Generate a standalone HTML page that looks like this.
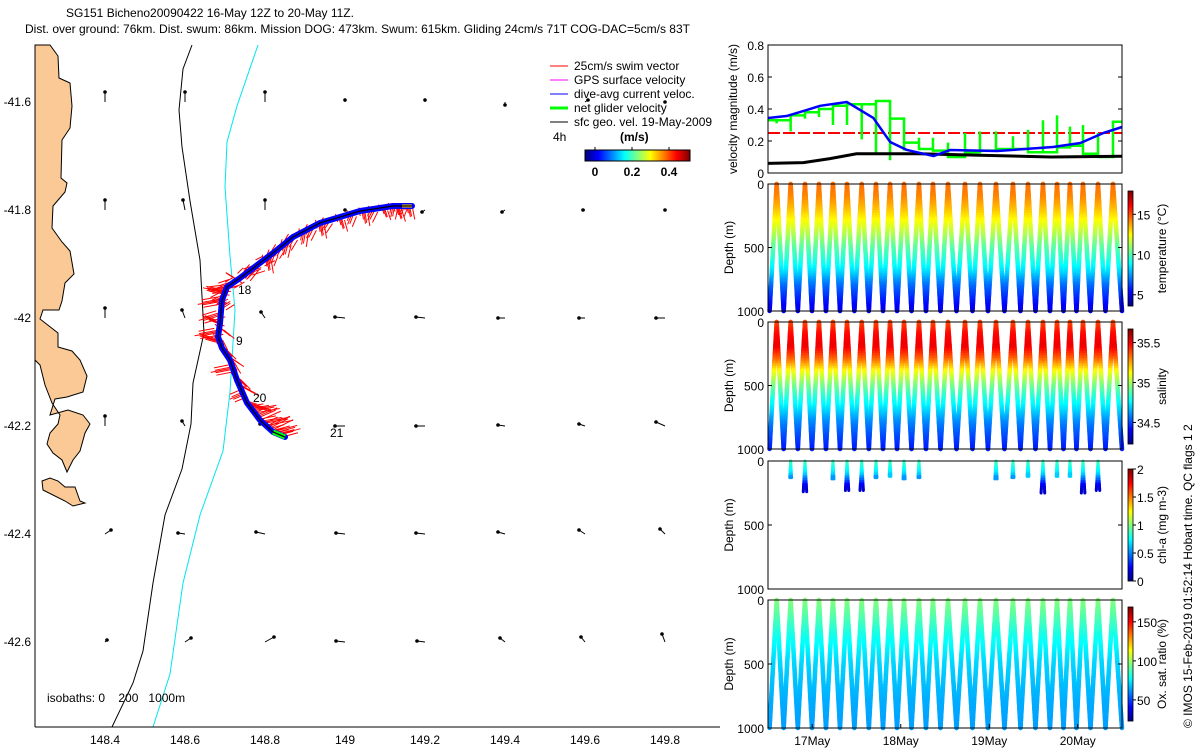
<!DOCTYPE html>
<html><head><meta charset="utf-8"><title>SG151 glider</title>
<style>
html,body{margin:0;padding:0;background:#fff;}
svg{display:block;font-family:"Liberation Sans",sans-serif;}
text{font-family:"Liberation Sans",sans-serif;}
</style></head>
<body>
<svg id="fig" width="1200" height="750" viewBox="0 0 1200 750" xmlns="http://www.w3.org/2000/svg">
<rect x="0" y="0" width="1200" height="750" fill="#fff"/>
<text x="66" y="17" font-size="12">SG151 Bicheno20090422 16-May 12Z to 20-May 11Z.</text>
<text x="25" y="33" font-size="12">Dist. over ground: 76km. Dist. swum: 86km. Mission DOG: 473km. Swum: 615km. Gliding 24cm/s 71T COG-DAC=5cm/s 83T</text>

<g id="map">
 <path fill="#FBC996" stroke="#000" stroke-width="1"
  d="M35,45 L50,45 L58,56 L59,78 L70,83 L72,106 L70,128 L62,140 L61,178 L67,183 L65,192 L53,206 L52,228 L62,242 L70,251 L74,274 L65,283 L62,301 L59,310 L43,310 L40,319 L58,333 L58,347 L72,351 L80,360 L87,376 L83,392 L67,397 L55,399 L50,415 L68,410 L83,415 L90,424 L85,433 L80,451 L73,460 L67,472 L62,460 L53,453 L47,444 L50,433 L58,424 L60,415 L52,403 L45,385 L40,365 L35,360 Z"/>
 <path fill="#FBC996" stroke="#000" stroke-width="1"
  d="M42,481 L50,478 L58,481 L65,487 L75,487 L80,501 L85,503 L73,506 L65,501 L43,490 Z"/>
 <polyline fill="none" stroke="#000" stroke-width="1"
  points="192,45 183,69 179,110 182,147 190,201 200,260 204,333 193,383 191,424 182,469 165,515 153,583 143,651 133,683 112,727"/>
 <polyline fill="none" stroke="#00e5ee" stroke-width="1"
  points="258,45 237,106 227,142 225,187 230,256 235,310 230,392 223,451 200,515 183,583 170,674 153,727"/>
 <g id="gridArrows"></g>
 <g id="track"></g>
 <text x="238" y="294" font-size="12">18</text>
 <text x="236" y="345" font-size="12">9</text>
 <text x="253" y="402" font-size="12">20</text>
 <text x="330" y="437" font-size="12">21</text>
 <line x1="35" y1="45" x2="35" y2="727" stroke="#000"/>
 <line x1="35" y1="727" x2="720" y2="727" stroke="#000"/>
 <g id="mapTicks"></g>
 <text x="47" y="702" font-size="12" xml:space="preserve">isobaths: 0    200   1000m</text>
 <g>
  <line x1="550" y1="66" x2="568" y2="66" stroke="#f00"/><text x="574" y="70" font-size="12">25cm/s swim vector</text>
  <line x1="550" y1="80" x2="568" y2="80" stroke="#f0f"/><text x="574" y="84" font-size="12">GPS surface velocity</text>
  <line x1="550" y1="94" x2="568" y2="94" stroke="#00f"/><text x="574" y="98" font-size="12">dive-avg current veloc.</text>
  <line x1="550" y1="108" x2="568" y2="108" stroke="#0f0" stroke-width="3"/><text x="574" y="112" font-size="12">net glider velocity</text>
  <line x1="550" y1="122" x2="568" y2="122" stroke="#000"/><text x="574" y="126" font-size="12">sfc geo. vel. 19-May-2009</text>
  <text x="553" y="141" font-size="12">4h</text>
  <text x="620" y="141" font-size="12" font-weight="bold">(m/s)</text>
 </g>
 <g id="speedBar"></g>
</g>

<g id="vel"></g>
<g id="temp"></g>
<g id="sal"></g>
<g id="chl"></g>
<g id="oxy"></g>
<text transform="translate(1192,728) rotate(-90)" font-size="12">© IMOS 15-Feb-2019 01:52:14 Hobart time. QC flags 1  2</text>
</svg>
<script>
// ---------- data ----------
const gridLons=[148.4,148.6,148.8,149,149.2,149.4,149.6,149.8];
const gridLats=[-41.6,-41.8,-42,-42.2,-42.4,-42.6];
const gridU=[[0,0,0,0,0,0,0.03,0],[0,-0.02,0,0,-0.03,-0.03,-0.02,0],[0,-0.03,-0.04,-0.1,-0.09,-0.07,-0.06,-0.09],[0,-0.03,-0.05,-0.1,-0.09,-0.07,-0.06,-0.09],[0.06,-0.07,-0.09,-0.09,-0.09,-0.07,-0.06,-0.05],[0.02,0.06,0.09,-0.09,-0.08,-0.05,-0.04,-0.03]];
const gridV=[[0.1,0.1,0.1,0.02,0.02,-0.03,0.02,0],[0.1,0.1,0.1,0,-0.02,-0.02,0,0],[0.1,0.08,0.06,0.01,0.01,0,0,0],[0.1,0.05,0.02,0,0,0.01,0.02,0.04],[0.04,0.01,0.02,0.01,0.01,0.02,0.04,0.05],[0.02,0.04,0.05,0.01,0.01,0.04,0.05,0.08]];
const trackLon=[149.1675,149.12,149.0375,148.9375,148.87,148.83,148.7875,148.7375,148.705,148.6925,148.6875,148.6825,148.6925,148.7125,148.73,148.755,148.7875,148.82,148.85];
const trackLat=[-41.7926,-41.7926,-41.8019,-41.824,-41.85,-41.874,-41.898,-41.926,-41.9426,-41.9667,-42.0093,-42.035,-42.0556,-42.0778,-42.1148,-42.157,-42.189,-42.211,-42.2204];
const swimIdx=[0.2,0.5,0.8,1,1.3,1.6,1.9,2.2,2.5,2.8,3,3.3,3.6,4,4.4,4.8,5.2,5.6,6,6.3,6.6,6.9,7.2,7.5,7.8,8.1,8.4,8.7,9,9.3,9.6,10,10.3,10.6,11,11.4,11.8,12.2,12.6,13,13.4,13.8,14.2,14.6,15,15.4,15.8,16.2,16.6,17,17.4];
const swimE=[0.02,-0.03,0.04,-0.02,0.03,-0.05,0.02,-0.04,0.03,-0.06,0.02,-0.05,-0.02,-0.06,-0.03,-0.05,-0.04,0.02,0.1,-0.08,0.12,0.08,-0.1,-0.15,0.1,-0.18,-0.2,-0.12,-0.22,0.08,-0.2,-0.15,0.1,-0.22,0.05,-0.18,0.1,0.08,0.12,0.06,-0.2,0.1,0.15,-0.12,0.2,0.22,0.18,0.25,0.2,0.22,0.15];
const swimN=[-0.1,-0.08,-0.12,-0.1,-0.09,-0.1,-0.12,-0.1,-0.11,-0.09,-0.12,-0.1,-0.12,-0.1,-0.12,-0.08,-0.1,-0.12,0.05,-0.1,0.04,0.08,0.06,-0.05,0.06,-0.02,0.04,-0.06,-0.04,0.05,-0.06,0.06,-0.08,-0.04,-0.1,0.05,-0.1,-0.12,-0.08,-0.1,-0.04,-0.1,-0.08,-0.05,-0.06,0.04,0.08,0.05,0.1,0.06,0.04];
// velocity panel (days since 16-May 12Z)
const blueT=[0,0.21,0.44,0.59,0.89,1.19,1.38,1.57,1.87,2.06,2.59,3.22,3.53,3.79,4.0];
const blueV=[0.344,0.356,0.394,0.42,0.444,0.344,0.194,0.144,0.106,0.144,0.1375,0.1625,0.1875,0.25,0.2875];
const blackT=[0,0.4,0.7,1.0,1.7,2.45,3.2,4.0];
const blackV=[0.06,0.065,0.09,0.12,0.12,0.11,0.1,0.105];
const diveT=[0.098,0.256,0.418,0.576,0.734,0.893,1.059,1.220,1.379,1.537,1.706,1.864,2.034,2.226,2.395,2.576,2.768,2.938,3.107,3.266,3.412,3.559,3.729,3.898];
const greenV=[0.33,0.36,0.38,0.40,0.42,0.43,0.43,0.45,0.34,0.19,0.15,0.14,0.10,0.13,0.14,0.15,0.15,0.13,0.13,0.16,0.17,0.12,0.10,0.32];
const greenSpike=[0.31,0.26,0.34,0.35,0.30,0.30,0.21,0.12,0.08,0.14,0.22,0.22,0.19,0.25,0.26,0.26,0.23,0.27,0.33,0.36,0.29,0.30,0.25,0.32];
const velTicks=[0,0.2,0.4,0.6,0.8];
const dateTicks=[0.5,1.5,2.5,3.5];
const dateLabels=["17May","18May","19May","20May"];
const depthTicks=[0,500,1000];
// profiles (depth m -> value)
const profDepth=[0,100,200,300,400,500,600,700,800,900,1000];
const tempProf=[14.6,14.3,13.5,12.5,11.5,10.3,9.5,8.5,7,6,5];
const salProf=[35.38,35.48,35.52,35.35,35.12,34.95,34.82,34.72,34.6,34.52,34.45];
const oxProf=[97,92,86,80,76,72,70,68,66,65,64];
const chlProf=[0.9,0.7,0.2,0.08,0.05,0.05,0.05,0.05,0.05,0.05,0.05];
const chlDives=[1,2,4,5,6,7,8,9,10,15,16,17,18,19,20,21,22];
const chlMaxDepth=[130,240,140,230,230,130,120,140,130,140,130,120,250,120,120,250,230];
const tempTicks=[5,10,15], salTicks=[34.5,35,35.5], chlTicks=[0,0.5,1,1.5,2], oxTicks=[50,100,150];
const speedTicks=[0,0.2,0.4];

// ---------- helpers ----------
const NS="http://www.w3.org/2000/svg";
function mk(tag,attrs,parent){const e=document.createElementNS(NS,tag);for(const k in attrs)e.setAttribute(k,attrs[k]);parent.appendChild(e);return e;}
function cl(v){return Math.max(0,Math.min(1,v));}
function jet(t){t=cl(t);const r=cl(1.5-Math.abs(4*t-3)),g=cl(1.5-Math.abs(4*t-2)),b=cl(1.5-Math.abs(4*t-1));return `rgb(${Math.round(r*255)},${Math.round(g*255)},${Math.round(b*255)})`;}
const lonX=lon=>35+(lon-148.225)*400;
const latY=lat=>102+(-41.6-lat)*540;

// ---------- map ----------
const mapTicks=document.getElementById('mapTicks');
[148.4,148.6,148.8,149,149.2,149.4,149.6,149.8].forEach(l=>{
 const t=mk('text',{x:lonX(l),y:744,'font-size':12,'text-anchor':'middle'},mapTicks);t.textContent=String(l);
 
 
});
[-41.6,-41.8,-42,-42.2,-42.4,-42.6].forEach(l=>{
 const t=mk('text',{x:31,y:latY(l)+4,'font-size':12,'text-anchor':'end'},mapTicks);t.textContent=String(l);
 
 
});
const ga=document.getElementById('gridArrows');
gridLats.forEach((la,i)=>gridLons.forEach((lo,j)=>{
 const x=lonX(lo),y=latY(la),dx=gridU[i][j]*100,dy=-gridV[i][j]*100;
 const g=mk('g',{},ga);
 
 
 mk('line',{x1:x,y1:y,x2:x+dx,y2:y+dy,stroke:'#000','stroke-width':1},g);
 mk('circle',{cx:x+dx,cy:y+dy,r:1.8,fill:'#000'},g);
}));
const tr=document.getElementById('track');
function trackPt(f){const i=Math.min(Math.floor(f),trackLon.length-2),r=f-i;return [lonX(trackLon[i]+(trackLon[i+1]-trackLon[i])*r),latY(trackLat[i]+(trackLat[i+1]-trackLat[i])*r)];}
swimIdx.forEach((f,k)=>{
 const [x,y]=trackPt(f);const x2=x+swimE[k]*110,y2=y-swimN[k]*110;
 const l=mk('line',{x1:x,y1:y,x2:x2,y2:y2,stroke:'#f00','stroke-width':1},tr);
 
 
 for(let s=1;s<5;s++){const ox=(s-2.5)*3,oy=(s-2.5)*2;
  const x3=x+ox+swimE[k]*110*(0.55+s*0.1),y3=y+oy-swimN[k]*110*(0.55+s*0.1);
  const l2=mk('line',{x1:x+ox,y1:y+oy,x2:x3,y2:y3,stroke:'#f00','stroke-width':1},tr);
  
  }
});
const ptsStr=trackLon.map((lo,i)=>lonX(lo)+','+latY(trackLat[i])).join(' ');
const blueBand=mk('polyline',{points:ptsStr,fill:'none',stroke:'#00f','stroke-width':6,'stroke-linejoin':'round','stroke-linecap':'round'},tr);


const n=trackLon.length;
const greenSeg=mk('line',{x1:lonX(trackLon[n-2]),y1:latY(trackLat[n-2]),x2:lonX(trackLon[n-1]),y2:latY(trackLat[n-1]),stroke:'#0f0','stroke-width':5},tr);


const yel=mk('line',{x1:lonX(trackLon[0])-10,y1:latY(trackLat[0]),x2:lonX(trackLon[0]),y2:latY(trackLat[0]),stroke:'#fc0','stroke-width':3},tr);


const blk=mk('polyline',{points:ptsStr,fill:'none',stroke:'#000','stroke-width':1.2},tr);


// speed colorbar
const sb=document.getElementById('speedBar');
for(let i=0;i<105;i++){mk('rect',{x:585+i,y:150,width:1.2,height:11,fill:jet(i/104)},sb);}
mk('rect',{x:585,y:150,width:105,height:11,fill:'none',stroke:'#000'},sb);
speedTicks.forEach(v=>{const x=595+v/0.2*37;mk('line',{x1:x,y1:147,x2:x,y2:150,stroke:'#000'},sb);
 const t=mk('text',{x:x,y:176,'font-size':12,'font-weight':'bold','text-anchor':'middle'},sb);t.textContent=String(v);});

// ---------- right panels ----------
const PX0=768,PX1=1122;
const tX=t=>PX0+t*88.5;
function frame(g,y0,y1){mk('rect',{x:PX0,y:y0,width:PX1-PX0,height:y1-y0,fill:'none',stroke:'#000','stroke-width':1},g);}
// velocity
const vel=document.getElementById('vel');
const vY=v=>173-v*160;
const redL=mk('line',{x1:PX0,y1:vY(0.25),x2:PX1,y2:vY(0.25),stroke:'#f00','stroke-width':2,'stroke-dasharray':'12,3'},vel);


let gp=[];diveT.forEach((t,i)=>{const t0=t,t1=i<diveT.length-1?diveT[i+1]:4.0;gp.push([tX(t0),vY(greenSpike[i])],[tX(t0),vY(greenV[i])],[tX(t1),vY(greenV[i])]);});
gp.unshift([PX0,vY(greenV[0])],[tX(diveT[0]),vY(greenV[0])]);
const gl=mk('polyline',{points:gp.map(p=>p.join(',')).join(' '),fill:'none',stroke:'#0f0','stroke-width':2.5},vel);


const bk=mk('polyline',{points:blackT.map((t,i)=>tX(t)+','+vY(blackV[i])).join(' '),fill:'none',stroke:'#000','stroke-width':3},vel);


const bl=mk('polyline',{points:blueT.map((t,i)=>tX(t)+','+vY(blueV[i])).join(' '),fill:'none',stroke:'#00f','stroke-width':2.5,'stroke-linejoin':'round'},vel);


frame(vel,45,173);
velTicks.forEach(v=>{const y=vY(v);mk('line',{x1:PX0,y1:y,x2:PX0+4,y2:y,stroke:'#000'},vel);mk('line',{x1:PX1-4,y1:y,x2:PX1,y2:y,stroke:'#000'},vel);
 const t=mk('text',{x:764,y:y+5,'font-size':12,'text-anchor':'end'},vel);t.textContent=String(v);});
const vt=mk('text',{transform:'translate(737,109) rotate(-90)','font-size':12,'text-anchor':'middle'},vel);vt.textContent='velocity magnitude (m/s)';

function interp(d,arr){for(let i=0;i<profDepth.length-1;i++){if(d<=profDepth[i+1]){const r=(d-profDepth[i])/(profDepth[i+1]-profDepth[i]);return arr[i]+(arr[i+1]-arr[i])*r;}}return arr[arr.length-1];}
function depthPanel(id,y0,y1,prof,vmin,vmax,cb0,cb1,ticks,label,dives,maxD){
 const g=document.getElementById(id);const dY=d=>y0+d/1000*(y1-y0);
 const legs=[];
 const list=dives||diveT.map((_,i)=>i);
 list.forEach((i,k)=>{
  const tTop=diveT[i];const tPrev=i>0?(diveT[i-1]+diveT[i])/2:Math.max(0,tTop-0.08);
  const tNext=i<diveT.length-1?(diveT[i]+diveT[i+1])/2:4.0;
  const md=maxD?maxD[k]:1000;
  legs.push([tPrev,tTop,md],[tNext,tTop,md]);
 });
 legs.forEach(([tb,tt,md])=>{
  const step=20;
  for(let d=0;d<md;d+=step){
   const f0=d/1000,f1=(d+step)/1000;
   const xa=tX(tt+(tb-tt)*f0),xb=tX(tt+(tb-tt)*Math.min(f1,md/1000));
   const v=interp(d+step/2,prof);
   const s=mk('line',{x1:xa,y1:dY(d),x2:xb,y2:dY(Math.min(d+step,md)),stroke:jet((v-vmin)/(vmax-vmin)),'stroke-width':dives?3:4.5,'stroke-linecap':'round'},g);
   
   
  }
 });
 frame(g,y0,y1);
 depthTicks.forEach(d=>{const y=dY(d);mk('line',{x1:PX0,y1:y,x2:PX0+4,y2:y,stroke:'#000'},g);mk('line',{x1:PX1-4,y1:y,x2:PX1,y2:y,stroke:'#000'},g);
  const t=mk('text',{x:764,y:y+5,'font-size':12,'text-anchor':'end'},g);t.textContent=String(d);});
 const dt=mk('text',{transform:`translate(733,${(y0+y1)/2}) rotate(-90)`,'font-size':12,'text-anchor':'middle'},g);dt.textContent='Depth (m)';
 const h=cb1-cb0;for(let i=0;i<h;i++){mk('rect',{x:1128,y:cb0+i,width:5,height:1.2,fill:jet(1-i/h)},g);}
 mk('rect',{x:1128,y:cb0,width:5,height:h,fill:'none',stroke:'#000','stroke-width':0.8},g);
 ticks.forEach(v=>{const y=cb1-(v-vmin)/(vmax-vmin)*h;mk('line',{x1:1133,y1:y,x2:1136,y2:y,stroke:'#000'},g);
  const t=mk('text',{x:1137,y:y+5,'font-size':12},g);t.textContent=String(v);});
 const lt=mk('text',{transform:`translate(1166,${(cb0+cb1)/2}) rotate(-90)`,'font-size':12,'text-anchor':'middle'},g);lt.textContent=label;
}
depthPanel('temp',184,311,tempProf,3.6,17.9,191,306,tempTicks,'temperature (°C)');
depthPanel('sal',322,449,salProf,34.23,35.67,329,444,salTicks,'salinity');
depthPanel('chl',461,589,chlProf,0,2,469,581,chlTicks,'chl-a (mg m-3)',chlDives,chlMaxDepth);
depthPanel('oxy',600,728,oxProf,23,169,607,721,oxTicks,'Ox. sat. ratio (%)');
const oxg=document.getElementById('oxy');
dateTicks.forEach((t,i)=>{const x=tX(t);mk('line',{x1:x,y1:724,x2:x,y2:728,stroke:'#000'},oxg);
 const tx=mk('text',{x:x,y:745,'font-size':12,'text-anchor':'middle'},oxg);tx.textContent=dateLabels[i];
 
 });
</script>
</body></html>
